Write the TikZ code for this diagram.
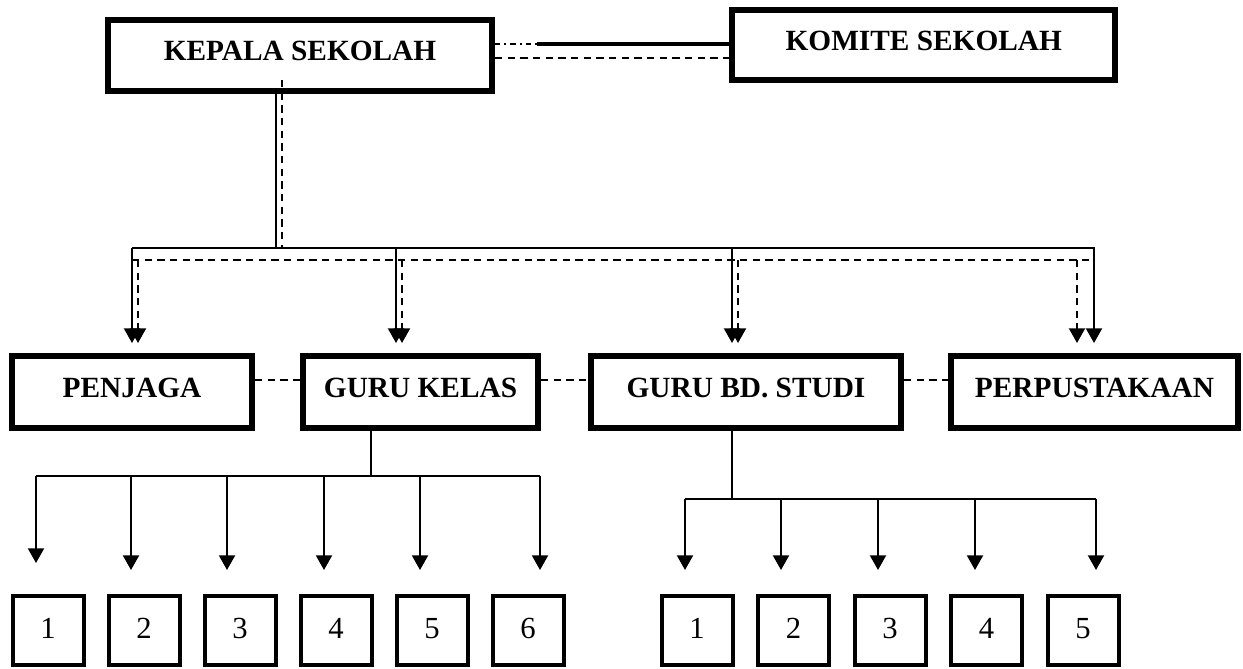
\documentclass[tikz,border=0pt]{standalone}
\usepackage{fontspec}
\setmainfont{Liberation Serif}
\usetikzlibrary{arrows.meta}

\tikzset{
  jabatan/.style={draw, line width=4.5pt, inner sep=0pt, minimum height=54pt,
    font=\fontsize{22}{26}\selectfont\bfseries, text height=14.6pt, text depth=7pt},
  kotakno/.style={draw, line width=3pt, inner sep=0pt, minimum width=53.25pt,
    minimum height=51.75pt, font=\fontsize{23}{27}\selectfont, text height=15.5pt, text depth=4pt},
  garis/.style={line width=1.5pt},
  putus/.style={line width=1.5pt, dash pattern={on 5.5pt off 4pt}},
  panah/.style={-{Triangle[width=12pt,length=11pt]}},
}

\begin{document}
\begin{tikzpicture}[x=0.75pt,y=0.75pt,yscale=-1,xscale=1]
\useasboundingbox (0,0) rectangle (1243,668);
% Text Node
\node[jabatan, minimum width=288pt, minimum height=53.25pt] (kepala) at (300,55.5) {KEPALA SEKOLAH};
% Text Node
\node[jabatan, minimum width=287.6pt, minimum height=52.5pt] (komite) at (923.75,45) {KOMITE SEKOLAH};
% Text Node
\node[jabatan, minimum width=180pt] (penjaga) at (132,392) {PENJAGA};
% Text Node
\node[jabatan, minimum width=176.25pt] (gurukelas) at (420.5,392) {GURU KELAS};
% Text Node
\node[jabatan, minimum width=232.5pt] (gurubd) at (746,392) {GURU BD. STUDI};
% Text Node
\node[jabatan, minimum width=215.25pt] (perpus) at (1094.5,392) {PERPUSTAKAAN};
% Text Node
\node[kotakno] (k1) at (48,630.5) {1};
\node[kotakno] (k2) at (144,630.5) {2};
\node[kotakno] (k3) at (240,630.5) {3};
\node[kotakno] (k4) at (336,630.5) {4};
\node[kotakno] (k5) at (432,630.5) {5};
\node[kotakno] (k6) at (528,630.5) {6};
% Text Node
\node[kotakno] (b1) at (697,630.5) {1};
\node[kotakno] (b2) at (793.5,630.5) {2};
\node[kotakno] (b3) at (890,630.5) {3};
\node[kotakno] (b4) at (986.5,630.5) {4};
\node[kotakno] (b5) at (1083,630.5) {5};

%Straight Lines kepala -- komite
\coordinate (sambung) at (537,44);
\coordinate (garisb) at (0,58);
\draw [line width=1.5pt, dash pattern={on 4pt off 3pt on 1.5pt off 3pt}] (kepala.east |- sambung) -- (sambung);
\draw [line width=2.75pt] (sambung) -- (komite.west |- sambung);
\draw [putus] (kepala.east |- garisb) -- (komite.west |- garisb);

%Straight Lines kepala -- bus
\coordinate (bus) at (276,248);
\coordinate (busp) at (282,260);
\draw [garis] (kepala.south -| bus) -- (bus);
\draw [putus] (busp |- kepala.south) ++(0,-14) -- (busp |- bus);
\draw [garis] (penjaga.north |- bus) -- (perpus.north |- bus);
\draw [putus] (penjaga.north |- busp) -- (perpus.north |- busp);

%Straight Lines bus -- bagian
\coordinate (p1) at (132,248);  \coordinate (p1d) at (138,260);
\coordinate (p2) at (396,248);  \coordinate (p2d) at (402,260);
\coordinate (p3) at (732,248);  \coordinate (p3d) at (738,260);
\coordinate (p4) at (1094,248); \coordinate (p4d) at (1077,260);
\draw [garis, panah, shorten >=7.5pt] (p1) -- (p1 |- penjaga.north);
\draw [putus, panah, shorten >=7.5pt] (p1d) -- (p1d |- penjaga.north);
\draw [garis, panah, shorten >=7.5pt] (p2) -- (p2 |- gurukelas.north);
\draw [putus, panah, shorten >=7.5pt] (p2d) -- (p2d |- gurukelas.north);
\draw [garis, panah, shorten >=7.5pt] (p3) -- (p3 |- gurubd.north);
\draw [putus, panah, shorten >=7.5pt] (p3d) -- (p3d |- gurubd.north);
\draw [garis, panah, shorten >=7.5pt] (p4) -- (p4 |- perpus.north);
\draw [putus, panah, shorten >=7.5pt] (p4d) -- (p4d |- perpus.north);

%Straight Lines antar bagian
\coordinate (tengah) at (0,380);
\draw [putus] (penjaga.east |- tengah) -- (gurukelas.west |- tengah);
\draw [putus] (gurukelas.east |- tengah) -- (gurubd.west |- tengah);
\draw [putus] (gurubd.east |- tengah) -- (perpus.west |- tengah);

%Straight Lines guru kelas -- kelas 1-6
\coordinate (kbus) at (371,476);
\coordinate (ka1) at (36,476);  \coordinate (ka2) at (131,476);
\coordinate (ka3) at (227,476); \coordinate (ka4) at (324,476);
\coordinate (ka5) at (420,476); \coordinate (ka6) at (540,476);
\draw [garis] (gurukelas.south -| kbus) -- (kbus);
\draw [garis] (ka1) -- (ka6);
\draw [garis, panah, shorten >=23.25pt] (ka1) -- (ka1 |- k1.north);
\draw [garis, panah, shorten >=18pt] (ka2) -- (ka2 |- k2.north);
\draw [garis, panah, shorten >=18pt] (ka3) -- (ka3 |- k3.north);
\draw [garis, panah, shorten >=18pt] (ka4) -- (ka4 |- k4.north);
\draw [garis, panah, shorten >=18pt] (ka5) -- (ka5 |- k5.north);
\draw [garis, panah, shorten >=18pt] (ka6) -- (ka6 |- k6.north);

%Straight Lines guru bd. studi -- kelas 1-5
\coordinate (bbus) at (732,499);
\coordinate (kb1) at (685,499); \coordinate (kb2) at (781,499);
\coordinate (kb3) at (878,499); \coordinate (kb4) at (975,499);
\coordinate (kb5) at (1096,499);
\draw [garis] (gurubd.south -| bbus) -- (bbus);
\draw [garis] (kb1) -- (kb5);
\draw [garis, panah, shorten >=18pt] (kb1) -- (kb1 |- b1.north);
\draw [garis, panah, shorten >=18pt] (kb2) -- (kb2 |- b2.north);
\draw [garis, panah, shorten >=18pt] (kb3) -- (kb3 |- b3.north);
\draw [garis, panah, shorten >=18pt] (kb4) -- (kb4 |- b4.north);
\draw [garis, panah, shorten >=18pt] (kb5) -- (kb5 |- b5.north);
\end{tikzpicture}
\end{document}
